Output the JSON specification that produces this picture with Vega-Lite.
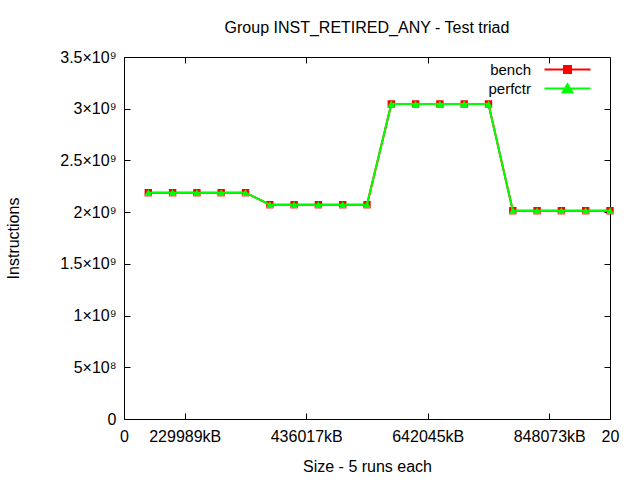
{
  "$schema": "https://vega.github.io/schema/vega-lite/v6.json",
  "width": 486,
  "height": 362,
  "autosize": {"type": "none"},
  "padding": {"left": 124, "top": 57, "right": 30, "bottom": 61},
  "background": "white",
  "title": {"text": "Group INST_RETIRED_ANY - Test triad", "anchor": "middle", "frame": "group", "fontSize": 16, "fontWeight": "normal", "font": "Liberation Sans", "offset": 13, "color": "black"},
  "config": {
    "view": {"stroke": "black", "strokeWidth": 1},
    "axis": {"grid": false, "domain": false, "tickColor": "black", "tickSize": -6, "labelFont": "Liberation Sans", "labelFontSize": 16, "labelColor": "black", "titleFont": "Liberation Sans", "titleFontSize": 16, "titleFontWeight": "normal", "titleColor": "black"},
    "legend": {"labelFont": "Liberation Sans", "labelFontSize": 15, "labelColor": "black"}
  },
  "data": {"values": [
    {"x": 1, "series": "bench", "value": 2188000000},
    {"x": 2, "series": "bench", "value": 2188000000},
    {"x": 3, "series": "bench", "value": 2188000000},
    {"x": 4, "series": "bench", "value": 2188000000},
    {"x": 5, "series": "bench", "value": 2188000000},
    {"x": 6, "series": "bench", "value": 2072000000},
    {"x": 7, "series": "bench", "value": 2072000000},
    {"x": 8, "series": "bench", "value": 2072000000},
    {"x": 9, "series": "bench", "value": 2072000000},
    {"x": 10, "series": "bench", "value": 2072000000},
    {"x": 11, "series": "bench", "value": 3046000000},
    {"x": 12, "series": "bench", "value": 3046000000},
    {"x": 13, "series": "bench", "value": 3046000000},
    {"x": 14, "series": "bench", "value": 3046000000},
    {"x": 15, "series": "bench", "value": 3046000000},
    {"x": 16, "series": "bench", "value": 2014000000},
    {"x": 17, "series": "bench", "value": 2014000000},
    {"x": 18, "series": "bench", "value": 2014000000},
    {"x": 19, "series": "bench", "value": 2014000000},
    {"x": 20, "series": "bench", "value": 2014000000},
    {"x": 1, "series": "perfctr", "value": 2188000000},
    {"x": 2, "series": "perfctr", "value": 2188000000},
    {"x": 3, "series": "perfctr", "value": 2188000000},
    {"x": 4, "series": "perfctr", "value": 2188000000},
    {"x": 5, "series": "perfctr", "value": 2188000000},
    {"x": 6, "series": "perfctr", "value": 2072000000},
    {"x": 7, "series": "perfctr", "value": 2072000000},
    {"x": 8, "series": "perfctr", "value": 2072000000},
    {"x": 9, "series": "perfctr", "value": 2072000000},
    {"x": 10, "series": "perfctr", "value": 2072000000},
    {"x": 11, "series": "perfctr", "value": 3046000000},
    {"x": 12, "series": "perfctr", "value": 3046000000},
    {"x": 13, "series": "perfctr", "value": 3046000000},
    {"x": 14, "series": "perfctr", "value": 3046000000},
    {"x": 15, "series": "perfctr", "value": 3046000000},
    {"x": 16, "series": "perfctr", "value": 2014000000},
    {"x": 17, "series": "perfctr", "value": 2014000000},
    {"x": 18, "series": "perfctr", "value": 2014000000},
    {"x": 19, "series": "perfctr", "value": 2014000000},
    {"x": 20, "series": "perfctr", "value": 2014000000}
  ]},
  "resolve": {"axis": {"x": "independent", "y": "independent"}},
  "layer": [
    {
      "transform": [{"filter": "datum.series === 'bench'"}],
      "mark": {"type": "line", "strokeWidth": 2, "point": {"shape": "square", "size": 55, "filled": true, "opacity": 1}},
      "encoding": {
        "x": {"field": "x", "type": "quantitative", "scale": {"domain": [0, 20], "nice": false, "zero": false},
              "axis": {"values": [0, 2.5, 7.5, 12.5, 17.5, 20], "labelExpr": "datum.value == 2.5 ? '229989kB' : datum.value == 7.5 ? '436017kB' : datum.value == 12.5 ? '642045kB' : datum.value == 17.5 ? '848073kB' : datum.value == 20 ? '20' : '0'", "title": "Size - 5 runs each", "labelPadding": 15, "titlePadding": 14, "labelFlush": false, "labelOverlap": false}},
        "y": {"field": "value", "type": "quantitative", "scale": {"domain": [0, 3500000000], "nice": false},
              "axis": {"values": [0, 500000000, 1000000000, 1500000000, 2000000000, 2500000000, 3000000000, 3500000000], "labelExpr": "datum.value == 0 ? '0' : datum.value < 1000000000 ? format(datum.value/100000000, '~g') + '×10⁸' : format(datum.value/1000000000, '~g') + '×10⁹'", "title": "Instructions", "labelPadding": 14, "titlePadding": 38, "labelFlush": false, "labelOverlap": false}},
        "color": {"field": "series", "type": "nominal", "scale": {"domain": ["bench", "perfctr"], "range": ["#ff0000", "#00ff00"]},
                  "legend": {"orient": "none", "legendX": 436, "legendY": 5, "title": null, "labelAlign": "right", "labelOffset": -44, "symbolSize": 100, "symbolStrokeWidth": 2, "rowPadding": 2,
                    "encode": {"symbols": {"update": {
                      "shape": {"signal": "datum.value === 'bench' ? 'M-4.6,0H4.6M-0.7,-0.7H0.7V0.7H-0.7Z' : 'M-4.6,0H4.6M0,-0.85L0.95,0.75H-0.95Z'"},
                      "fill": {"signal": "datum.value === 'bench' ? '#ff0000' : '#00ff00'"},
                      "stroke": {"signal": "datum.value === 'bench' ? '#ff0000' : '#00ff00'"},
                      "opacity": {"value": 1}, "fillOpacity": {"value": 1}, "strokeOpacity": {"value": 1}}}}}}
      }
    },
    {
      "transform": [{"filter": "datum.series === 'perfctr'"}],
      "mark": {"type": "line", "strokeWidth": 2, "point": {"shape": "triangle-up", "size": 60, "filled": true, "opacity": 1}},
      "encoding": {
        "x": {"field": "x", "type": "quantitative", "axis": {"orient": "top", "values": [2.5, 7.5, 12.5, 17.5], "labels": false, "title": null}},
        "y": {"field": "value", "type": "quantitative", "axis": {"orient": "right", "values": [500000000, 1000000000, 1500000000, 2000000000, 2500000000, 3000000000], "labels": false, "title": null}},
        "color": {"field": "series", "type": "nominal"}
      }
    }
  ]
}
